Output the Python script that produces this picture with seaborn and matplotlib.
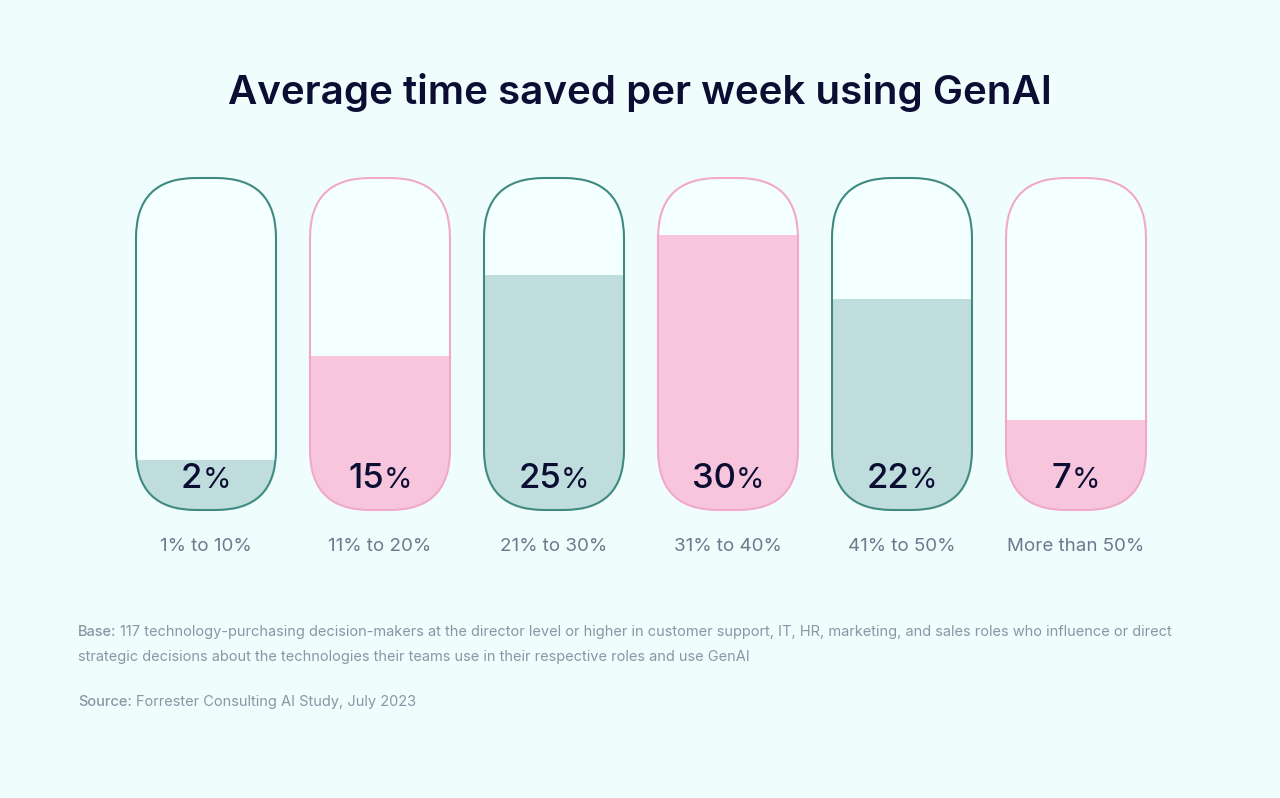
import numpy as np
import pandas as pd
import seaborn as sns
import matplotlib
matplotlib.use("Agg")
import matplotlib.pyplot as plt
from matplotlib.patches import FancyBboxPatch
from matplotlib.offsetbox import TextArea, HPacker, AnnotationBbox

# ---- data ----
categories = ["1% to 10%", "11% to 20%", "21% to 30%", "31% to 40%", "41% to 50%", "More than 50%"]
values = [2, 15, 25, 30, 22, 7]
value_labels = ["2", "15", "25", "30", "22", "7"]
themes = ["teal", "pink", "teal", "pink", "teal", "pink"]

title = "Average time saved per week using GenAI"
base_note = ("117 technology-purchasing decision-makers at the director level or higher in customer support, IT, HR, marketing, and sales roles who influence or direct",
             "strategic decisions about the technologies their teams use in their respective roles and use GenAI")
source_note = "Forrester Consulting AI Study, July 2023"

# ---- style ----
BG = "#effdfd"
INNER = "#f4ffff"
EDGE = {"teal": "#3f8a80", "pink": "#f2a9c9"}
FILL = {"teal": "#bfdddd", "pink": "#f7c6dd"}
NAVY = "#0b0d33"
GREY = "#6b7a8c"
FOOT = "#8a96a3"
FONT = ["Inter", "DejaVu Sans"]

sns.set_theme(style="white")
plt.rcParams["font.family"] = FONT

W, H = 1280, 798
fig = plt.figure(figsize=(W / 100, H / 100), dpi=100, facecolor=BG)
ax = fig.add_axes([0, 0, 1, 1])
ax.set_facecolor(BG)

# pixel -> data geometry
x0px, step = 206, 174.0
pxu = 8.04           # pixels per value unit
base_off = 33.7      # px of fill below zero value
y_base_px, y_top_px = 510, 178
ylo = (y_base_px - base_off - H) / pxu
yhi = (y_base_px - base_off) / pxu
base = -base_off / pxu
top = (y_base_px - base_off - y_top_px) / pxu
width = 140 / step
aspect = step / pxu
radius = 60 / step

df = pd.DataFrame({"cat": categories, "val": values, "theme": themes})
sns.barplot(data=df, x="cat", y="val", hue="theme", palette=FILL, width=width,
            dodge=False, legend=False, ax=ax, saturation=1, linewidth=0)

ax.set_xlim(-x0px / step, (W - x0px) / step)
ax.set_ylim(ylo, yhi)
ax.axis("off")

bars = sorted(ax.patches, key=lambda p: p.get_x())
for i, (bar, th) in enumerate(zip(bars, themes)):
    inner = FancyBboxPatch((i - width / 2, base), width, top - base,
                           boxstyle=f"round,pad=0,rounding_size={radius}",
                           mutation_aspect=aspect, facecolor=INNER, edgecolor="none", zorder=0.5)
    ax.add_patch(inner)
    v = bar.get_height()
    bar.set_y(base)
    bar.set_height(v - base)
    bar.set_zorder(1)
    bar.set_clip_path(inner)
    outline = FancyBboxPatch((i - width / 2, base), width, top - base,
                             boxstyle=f"round,pad=0,rounding_size={radius}",
                             mutation_aspect=aspect, facecolor="none", edgecolor=EDGE[th],
                             linewidth=1.5, zorder=3)
    ax.add_patch(outline)

    num = TextArea(value_labels[i], textprops=dict(fontsize=25, color=NAVY, fontweight="medium", family=FONT))
    pct = TextArea("%", textprops=dict(fontsize=21, color=NAVY, fontweight="normal", family=FONT))
    box = HPacker(children=[num, pct], align="baseline", pad=0, sep=0)
    ab = AnnotationBbox(box, (i, base), xybox=(0, 22.5), boxcoords="offset points",
                        frameon=False, box_alignment=(0.5, 0.5), zorder=4)
    ax.add_artist(ab)

    ax.annotate(categories[i], (i, base), xytext=(0, -26), textcoords="offset points",
                ha="center", va="center", fontsize=13.5, color=GREY)

fig.text(0.5, 1 - 92 / H, title, ha="center", va="center", fontsize=29,
         color=NAVY, fontweight="semibold")

def foot(y, label, rest):
    t = fig.text(78 / W, 1 - y / H, label, ha="left", va="center", fontsize=10.5,
                 color=FOOT, fontweight="medium")
    fig.canvas.draw()
    bb = t.get_window_extent()
    fig.text((bb.x1 + 4) / W, 1 - y / H, rest, ha="left", va="center", fontsize=10.5, color=FOOT)

foot(632, "Base:", base_note[0])
fig.text(78 / W, 1 - 657 / H, base_note[1], ha="left", va="center", fontsize=10.5, color=FOOT)
foot(702, "Source:", source_note)

fig.savefig("out.png", dpi=100, facecolor=BG)
